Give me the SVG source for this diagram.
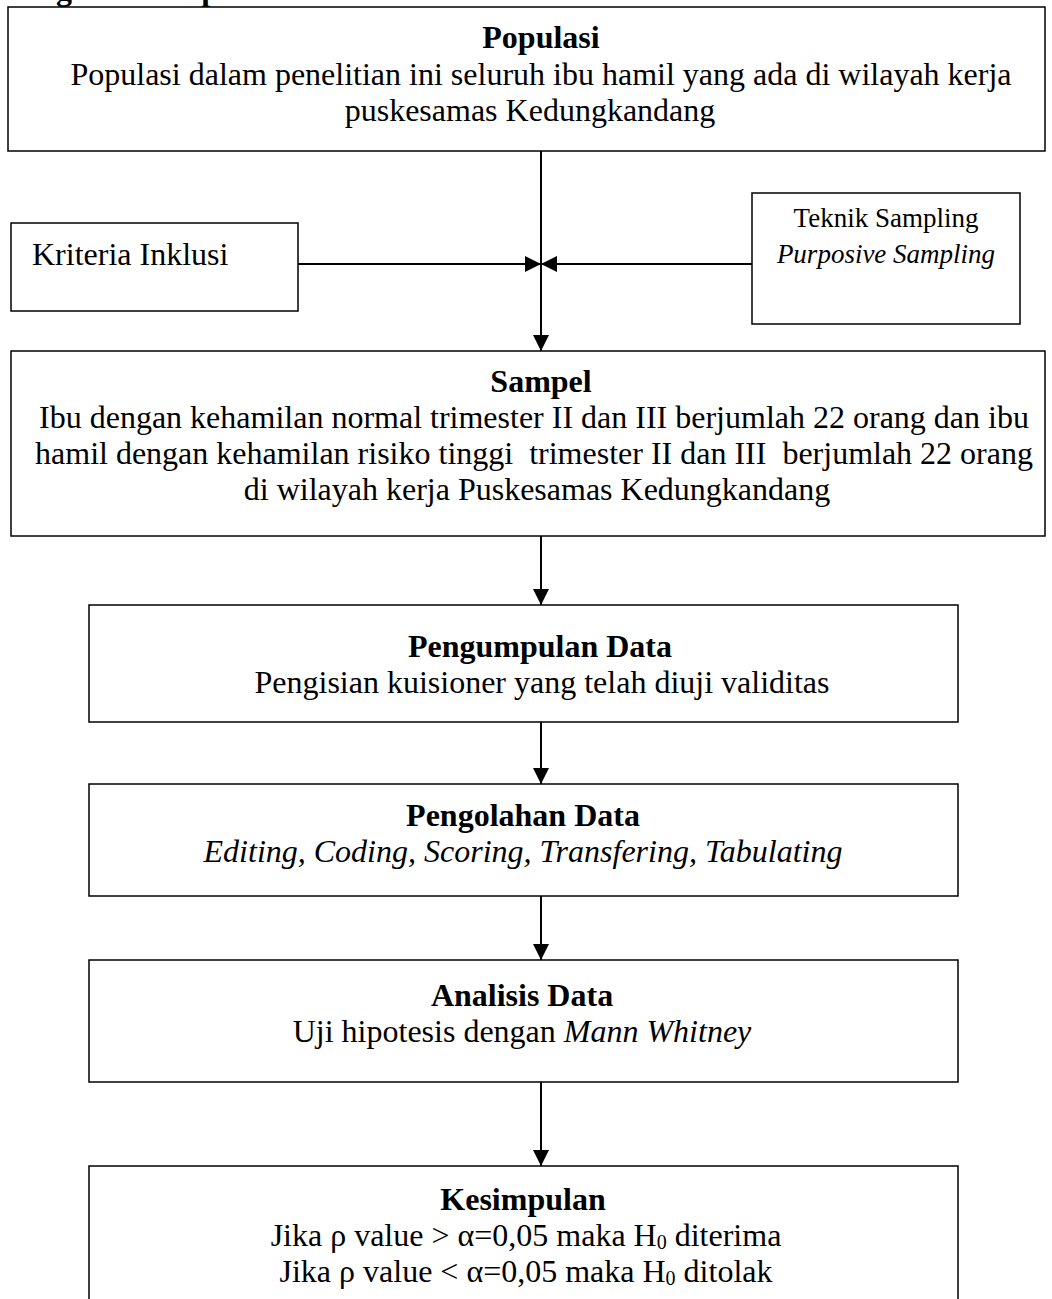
<svg xmlns="http://www.w3.org/2000/svg" width="1052" height="1299" viewBox="0 0 1052 1299">
<style>
  text { font-family: "Liberation Serif", "Times New Roman", serif; fill: #000; }
  .t { font-size: 32px; text-anchor: middle; }
  .h { font-size: 32px; font-weight: bold; text-anchor: middle; }
  .s { font-size: 27px; text-anchor: middle; }
  .i { font-style: italic; }
  .sub { font-size: 20px; }
  .box { fill: #fff; stroke: #000; stroke-width: 1.5; }
  .conn { stroke: #000; stroke-width: 2; fill: none; }
</style>
<defs>
  <marker id="arr" markerUnits="userSpaceOnUse" markerWidth="16" markerHeight="16" refX="16" refY="8" orient="auto" viewBox="0 0 16 16">
    <path d="M0,0 L16,8 L0,16 z" fill="#000"/>
  </marker>
</defs>
<rect width="1052" height="1299" fill="#fff"/>
<text x="8" y="0" style="font-size:32px;font-weight:bold">Diagram alur penelitian</text>

<g id="connectors">
  <line class="conn" x1="541" y1="151" x2="541" y2="351" marker-end="url(#arr)"/>
  <line class="conn" x1="298" y1="264" x2="541" y2="264" marker-end="url(#arr)"/>
  <line class="conn" x1="752" y1="264" x2="541" y2="264" marker-end="url(#arr)"/>
  <line class="conn" x1="541" y1="536" x2="541" y2="605" marker-end="url(#arr)"/>
  <line class="conn" x1="541" y1="722" x2="541" y2="784" marker-end="url(#arr)"/>
  <line class="conn" x1="541" y1="896" x2="541" y2="960" marker-end="url(#arr)"/>
  <line class="conn" x1="541" y1="1082" x2="541" y2="1166" marker-end="url(#arr)"/>
</g>

<g id="populasi">
  <rect class="box" x="8" y="7" width="1037" height="144"/>
  <text class="h" x="541" y="48">Populasi</text>
  <text class="t" x="541" y="85">Populasi dalam penelitian ini seluruh ibu hamil yang ada di wilayah kerja</text>
  <text class="t" x="530" y="121">puskesamas Kedungkandang</text>
</g>

<g id="kriteria">
  <rect class="box" x="11" y="223" width="287" height="88"/>
  <text x="32" y="265" style="font-size:32px">Kriteria Inklusi</text>
</g>

<g id="teknik">
  <rect class="box" x="752" y="193" width="268" height="131"/>
  <text class="s" x="886" y="227">Teknik Sampling</text>
  <text class="s i" x="886" y="263">Purposive Sampling</text>
</g>

<g id="sampel">
  <rect class="box" x="11" y="351" width="1034" height="185"/>
  <text class="h" x="541" y="392">Sampel</text>
  <text class="t" x="534" y="428">Ibu dengan kehamilan normal trimester II dan III berjumlah 22 orang dan ibu</text>
  <text class="t" x="534" y="464" xml:space="preserve">hamil dengan kehamilan risiko tinggi  trimester II dan III  berjumlah 22 orang</text>
  <text class="t" x="537" y="500">di wilayah kerja Puskesamas Kedungkandang</text>
</g>

<g id="pengumpulan">
  <rect class="box" x="89" y="605" width="869" height="117"/>
  <text class="h" x="540" y="657">Pengumpulan Data</text>
  <text class="t" x="542" y="693">Pengisian kuisioner yang telah diuji validitas</text>
</g>

<g id="pengolahan">
  <rect class="box" x="89" y="784" width="869" height="112"/>
  <text class="h" x="523" y="826">Pengolahan Data</text>
  <text class="t i" x="523" y="862">Editing, Coding, Scoring, Transfering, Tabulating</text>
</g>

<g id="analisis">
  <rect class="box" x="89" y="960" width="869" height="122"/>
  <text class="h" x="522" y="1006">Analisis Data</text>
  <text class="t" x="522" y="1042">Uji hipotesis dengan <tspan class="i">Mann Whitney</tspan></text>
</g>

<g id="kesimpulan">
  <rect class="box" x="89" y="1166" width="869" height="160"/>
  <text class="h" x="523" y="1210">Kesimpulan</text>
  <text class="t" x="526" y="1246">Jika ρ value &gt; α=0,05 maka H<tspan class="sub" dy="3">0</tspan><tspan dy="-3"> diterima</tspan></text>
  <text class="t" x="526" y="1282">Jika ρ value &lt; α=0,05 maka H<tspan class="sub" dy="3">0</tspan><tspan dy="-3"> ditolak</tspan></text>
</g>
</svg>
